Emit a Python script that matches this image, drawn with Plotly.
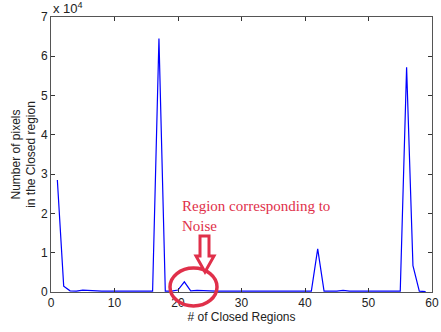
import plotly.graph_objects as go

# Data (pixel counts)
regions = list(range(1, 60))
pixels_e4 = [2.85, 0.15, 0.03, 0.02, 0.05, 0.04, 0.02, 0.02, 0.02, 0.02,
             0.02, 0.02, 0.02, 0.02, 0.02, 0.02, 6.45, 0.02, 0.02, 0.05,
             0.26, 0.03, 0.04, 0.03, 0.02, 0.02, 0.02, 0.02, 0.02, 0.02,
             0.02, 0.02, 0.02, 0.02, 0.02, 0.02, 0.02, 0.02, 0.02, 0.02,
             0.02, 1.10, 0.02, 0.02, 0.02, 0.04, 0.02, 0.02, 0.02, 0.02,
             0.02, 0.02, 0.02, 0.02, 0.02, 5.72, 0.67, 0.02, 0.01]
pixels = [v * 1e4 for v in pixels_e4]
x_ticks = [0, 10, 20, 30, 40, 50, 60]
y_ticks = [0, 1, 2, 3, 4, 5, 6, 7]

W, H = 441, 332
ML, MR, MT, MB = 51, 9, 17, 40

fig = go.Figure()
fig.add_trace(go.Scatter(x=regions, y=pixels, mode="lines",
                         line=dict(color="#0000ff", width=1.2),
                         hoverinfo="skip", showlegend=False))

axis_common = dict(showgrid=False, zeroline=False, showline=True, mirror="ticks",
                   linecolor="#555555", linewidth=1, ticks="inside", ticklen=4,
                   tickcolor="#333333", automargin=False,
                   tickfont=dict(family="Arial", size=12, color="#222222"))
fig.update_xaxes(range=[0, 60], tickvals=x_ticks, ticktext=[str(t) for t in x_ticks],
                 title=dict(text="# of Closed Regions", font=dict(family="Arial", size=12, color="#222"),
                            standoff=3),
                 **axis_common)
fig.update_yaxes(range=[0, 7e4], tickvals=[t * 1e4 for t in y_ticks],
                 ticktext=[str(t) for t in y_ticks],
                 title=dict(text="Number of pixels<br>in the Closed region",
                            font=dict(family="Arial", size=12, color="#222"), standoff=2),
                 **axis_common)

pw, ph = W - ML - MR, H - MT - MB
def px_to_paper(xp, yp):
    return (xp - ML) / pw, (H - MB - yp) / ph

red = "#e0304a"
# exponent label
fig.add_annotation(text="x 10<sup>4</sup>", xref="paper", yref="paper",
                   x=0, y=1, xanchor="left", yanchor="bottom", yshift=-1,
                   showarrow=False, font=dict(family="Arial", size=13, color="#222"))
# annotation text
fig.add_annotation(text="Region corresponding to<br>Noise", xref="paper", yref="paper",
                   x=px_to_paper(180, 0)[0], y=px_to_paper(0, 196)[1],
                   xanchor="left", yanchor="top", align="left", showarrow=False,
                   font=dict(family="Liberation Serif, Times New Roman, serif", size=15, color=red))
# ellipse
x0, y0 = px_to_paper(170, 306)
x1, y1 = px_to_paper(217, 268)
fig.add_shape(type="circle", xref="paper", yref="paper", x0=x0, y0=y0, x1=x1, y1=y1,
              line=dict(color=red, width=3.5), layer="above")
# arrow (outlined)
pts = [(200, 236), (209, 236), (209, 256), (214, 256), (205, 272), (196, 256), (200, 256)]
path = "M " + " L ".join(f"{px_to_paper(a, b)[0]:.4f},{px_to_paper(a, b)[1]:.4f}" for a, b in pts) + " Z"
fig.add_shape(type="path", xref="paper", yref="paper", path=path,
              line=dict(color=red, width=3), fillcolor="white", layer="above")

fig.update_layout(width=W, height=H, margin=dict(l=ML, r=MR, t=MT, b=MB),
                  plot_bgcolor="white", paper_bgcolor="white")
fig.write_html("out.html", config={"displayModeBar": False},
               post_script="document.body.style.margin='0';")
